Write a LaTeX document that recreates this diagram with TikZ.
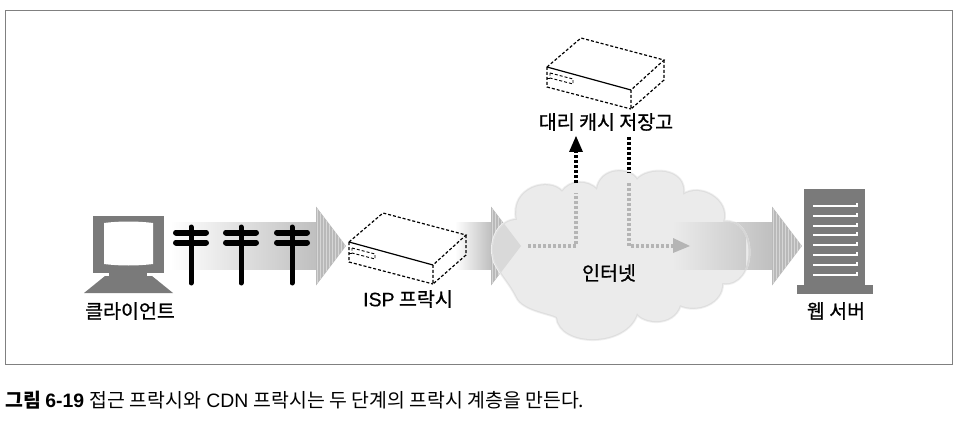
\documentclass[tikz,border=0pt]{standalone}
\usepackage{fontspec}
\setmainfont{Liberation Sans}
\newfontfamily\cjk{Noto Sans CJK KR}
\newfontfamily\cjkmed[FakeBold=0.8]{Noto Sans CJK KR}
\newfontfamily\latinmed[FakeBold=0.3]{Liberation Sans}
\usetikzlibrary{arrows.meta}

\tikzset{
    label text/.style={font=\fontsize{19.5}{22}\selectfont\cjkmed, inner sep=0pt},
    box solid/.style={line width=1.2pt, black},
    box dash/.style={line width=1.2pt, black, dash pattern=on 3pt off 2pt},
    dots black/.style={line width=3.6pt, black, dash pattern=on 3pt off 2pt},
    dots gray/.style={line width=3.4pt, gray!58, dash pattern=on 3pt off 2pt},
}

% cloud outline, in pixels of the picture
\def\cloudpath{(495,262)
    .. controls (488,240) and (500,220) .. (517,220)
    .. controls (510,187) and (550,177) .. (562,192)
    .. controls (570,180) and (588,180) .. (597,190)
    .. controls (600,167) and (630,167) .. (637,180)
    .. controls (647,167) and (687,167) .. (683,195)
    .. controls (700,183) and (730,200) .. (723,222)
    .. controls (757,217) and (757,288) .. (722,283)
    .. controls (723,303) and (697,313) .. (680,305)
    .. controls (673,327) and (643,323) .. (637,313)
    .. controls (627,347) and (560,347) .. (557,317)
    .. controls (550,313) and (523,310) .. (517,297)
    .. controls (510,283) and (503,277) .. (495,262) -- cycle}

% striped arrow head: base x, tip x
\newcommand\arrowhead[2]{
    \begin{scope}
        \clip (#1,206.5) -- (#2,246) -- (#1,285.5) -- cycle;
        \fill[gray!55] (#1,206) rectangle (#2,286);
        \foreach \s in {1,4,...,28}
            \draw[gray!32, line width=1pt] (#1+\s,206) -- (#1+\s,286);
    \end{scope}
}

% proxy box, shifted from the ISP one
\newcommand\proxybox[2]{
    \begin{scope}[shift={(#1,#2)}]
        \draw[box dash] (349,242) -- (383,213) -- (466,235) -- (433,265);
        \draw[box dash] (466,235) -- (466,255) -- (433,284) -- (433,265);
        \draw[box dash] (349,242) -- (349,262) -- (433,284);
        \draw[box solid] (349,242) -- (433,265);
        \draw[box dash, line width=.9pt] (352,248) -- (375,254) -- (375,259) -- (352,253) -- cycle;
        \draw[box dash, line width=.9pt] (349,253) -- (352,253);
    \end{scope}
}

\begin{document}
\begin{tikzpicture}[x=1pt,y=-1pt]

    \useasboundingbox (0,0) rectangle (957,422);

    % frame
    \draw[gray, line width=1pt] (5.5,10.5) rectangle (952.5,364.5);

    % wide arrows
    \shade[left color=white, right color=gray!50] (170,222) rectangle (316,269);
    \arrowhead{316}{346}
    \shade[left color=white, right color=gray!50] (455,222) rectangle (491,269);
    \arrowhead{491}{521}
    \shade[left color=gray!15, right color=gray!50] (673,222) rectangle (772,269);
    \arrowhead{772}{802}

    % cloud with soft edge
    \draw[gray!12, line width=4pt, line join=round] \cloudpath;
    \draw[gray!26, line width=2.2pt, line join=round] \cloudpath;
    \begin{scope}
        \clip (700,222) rectangle (772,269);
        \draw[gray!32, line width=4pt] \cloudpath;
    \end{scope}
    \fill[gray!16] \cloudpath;
    \begin{scope}
        \clip \cloudpath;
        \fill[gray!30] (491,206.5) -- (521,246) -- (491,285.5) -- cycle;
        \shade[left color=gray!16, right color=gray!40] (673,222) rectangle (746,269);
    \end{scope}

    % telephone poles
    \foreach \x in {191,241,292} {
        \draw[line width=5pt, line cap=round] (\x,227) -- (\x,283);
        \draw[line width=6pt, line cap=round] (\x-15,232.5) -- (\x+15,232.5);
        \draw[line width=6pt, line cap=round] (\x-15,242.5) -- (\x+15,242.5);
    }

    % client monitor
    \fill[black!52] (93,216) rectangle (164,273);
    \fill[white] (104,223) .. controls (120,221) and (137,221) .. (153,223)
        -- (153,264) .. controls (137,266) and (120,266) .. (104,264) -- cycle;
    \fill[black!52] (109,273) rectangle (147,278);
    \fill[black!52] (105,276) -- (152,276) -- (173,293) -- (84,293) -- cycle;

    % proxies
    \proxybox{0}{0}
    \proxybox{198}{-175}

    % web server
    \fill[black!52] (804,189) rectangle (865,286);
    \fill[black!52] (797,285) rectangle (873,294);
    \foreach \y in {206,216,226,235,245,255,265,275} {
        \draw[white, line width=1.5pt] (813,\y) -- (857,\y) -- (857,\y-3.5);
    }

    % dotted paths through the internet
    \coordinate (entry) at (528,246);
    \coordinate (turnA) at (576,246);
    \coordinate (cloudA) at (576,193);
    \coordinate (edgeA) at (576,183);
    \coordinate (tipA) at (576,136);
    \coordinate (startB) at (629,137);
    \coordinate (edgeB) at (629,173);
    \coordinate (cloudB) at (629,183);
    \coordinate (turnB) at (629,246);
    \coordinate (exit) at (673,246);
    \coordinate (tipB) at (690,246);

    \draw[dots gray] (entry) -- (turnA) -- (cloudA);
    \draw[dots black] (edgeA) -- (576,152);
    \fill (tipA) -- (583,152) -- (569,152) -- cycle;
    \draw[dots black] (startB) -- (edgeB);
    \draw[dots gray] (cloudB) -- (turnB) -- (exit);
    \fill[gray!58] (tipB) -- (673,238) -- (673,253) -- cycle;

    % labels
    \node[label text] (client) at (130,311) {클라이언트};
    \node[label text] (isp) at (408,299) {{\latinmed ISP} 프락시};
    \node[label text] (cache) at (606,122) {대리 캐시 저장고};
    \node[label text] (internet) at (609,273) {인터넷};
    \node[label text] (server) at (836,311) {웹 서버};

    \node[anchor=base west, inner sep=0pt, font=\fontsize{19.4}{22}\selectfont] (caption) at (5,407)
        {{\bfseries\cjk 그림 \rmfamily 6-19} {\cjk 접근 프락시와} CDN {\cjk 프락시는 두 단계의 프락시 계층을 만든다.}};

\end{tikzpicture}
\end{document}
